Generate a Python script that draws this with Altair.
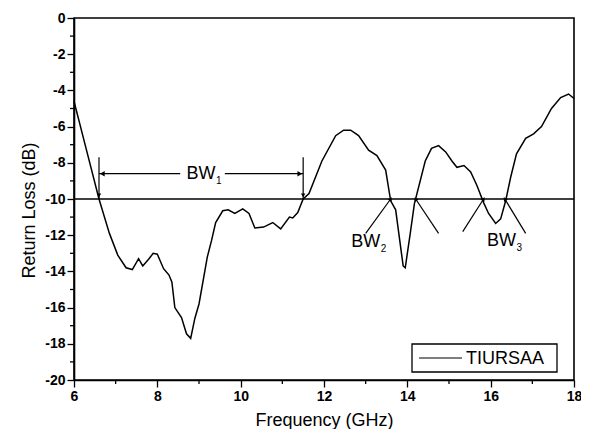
import altair as alt
import pandas as pd

# ---- data ----
freq = [6.0, 6.3, 6.6, 6.85, 7.05, 7.25, 7.4, 7.55, 7.65, 7.8, 7.9, 8.0, 8.15, 8.28,
        8.35, 8.42, 8.58, 8.7, 8.8, 8.9, 9.0, 9.2, 9.3, 9.4, 9.57, 9.7, 9.86, 10.05,
        10.2, 10.34, 10.55, 10.77, 10.96, 11.17, 11.25, 11.37, 11.5, 11.64, 11.95,
        12.28, 12.47, 12.64, 12.83, 13.07, 13.27, 13.48, 13.6, 13.72, 13.9, 13.95,
        14.07, 14.17, 14.43, 14.58, 14.75, 14.92, 15.07, 15.19, 15.36, 15.52, 15.67,
        15.83, 15.95, 16.12, 16.24, 16.36, 16.48, 16.62, 16.84, 17.03, 17.22, 17.46,
        17.68, 17.87, 18.0]
rl = [-4.6, -7.3, -10.0, -11.9, -13.1, -13.8, -13.9, -13.3, -13.7, -13.3, -13.0, -13.05,
      -13.85, -14.2, -14.6, -16.0, -16.55, -17.45, -17.7, -16.6, -15.8, -13.2, -12.3,
      -11.3, -10.65, -10.6, -10.8, -10.55, -10.8, -11.6, -11.55, -11.3, -11.65, -11.0,
      -11.05, -10.75, -10.0, -9.7, -7.9, -6.5, -6.2, -6.2, -6.5, -7.3, -7.6, -8.4,
      -10.1, -10.6, -13.7, -13.8, -11.9, -10.25, -7.9, -7.2, -7.05, -7.4, -7.9, -8.25,
      -8.15, -8.5, -9.25, -10.2, -10.8, -11.35, -11.1, -10.1, -8.8, -7.5, -6.65, -6.4,
      -6.0, -5.0, -4.4, -4.2, -4.45]
series_name = "TIURSAA"
threshold = -10
x_ticks = [6, 8, 10, 12, 14, 16, 18]
x_minor = [7, 9, 11, 13, 15, 17]
y_ticks = [-20, -18, -16, -14, -12, -10, -8, -6, -4, -2, 0]
y_minor = [-19, -17, -15, -13, -11, -9, -7, -5, -3, -1]

# BW1 markers
bw1_edges = [6.6, 11.5]
bw1_top = -7.7
bw1_arrow_y = -8.6
bw1_left_seg = [6.6, 8.55]
bw1_right_seg = [9.62, 11.5]
# diagonal pointers (x_start, y_start, x_end at -10 line)
diag_x1 = [13.0, 14.75, 15.33, 16.84]
diag_y1 = [-11.9, -11.9, -11.8, -11.9]
diag_x2 = [13.6, 14.2, 15.83, 16.34]
diag_angle = [32, 323, 34, 325]
# labels
lab_x = [9.05, 13.0, 16.26]
lab_y = [-8.6, -12.4, -12.3]
lab_sub = ["1", "2", "3"]

W, H = 500, 362
X = alt.Scale(domain=[6, 18], nice=False, zero=False)
Y = alt.Scale(domain=[-20, 0], nice=False, zero=False)
FONT = "Liberation Sans"
AX = alt.Axis(values=x_ticks, labelExpr="datum.value + ''")
AY = alt.Axis(values=y_ticks, labelExpr="datum.value + ''", titleY=H / 2 + 11,
              labelOverlap=False)
XT = "Frequency (GHz)"
YT = "Return Loss (dB)"


def xq(f):
    return alt.X(f, scale=X, axis=AX, title=XT)


def yq(f):
    return alt.Y(f, scale=Y, axis=AY, title=YT)


curve = pd.DataFrame({"f": freq, "rl": rl})
line = alt.Chart(curve).mark_line(color="black", strokeWidth=1.5).encode(
    x=xq("f:Q"), y=yq("rl:Q"))

hline = alt.Chart(pd.DataFrame({"a": [6], "b": [18], "y": [threshold]})).mark_rule(
    color="black", strokeWidth=1.3).encode(x=xq("a:Q"), x2="b:Q", y=yq("y:Q"))

minor_y = alt.Chart(pd.DataFrame({"v": y_minor})).mark_rule(
    color="black", strokeWidth=1.3).encode(
    y=yq("v:Q"), x=alt.value(0), x2=alt.value(-4))
minor_x = alt.Chart(pd.DataFrame({"v": x_minor})).mark_rule(
    color="black", strokeWidth=1.3).encode(
    x=xq("v:Q"), y=alt.value(H), y2=alt.value(H + 4))

vlines = alt.Chart(pd.DataFrame({"x": bw1_edges, "y1": [bw1_top] * 2,
                                 "y2": [threshold] * 2})).mark_rule(
    color="black", strokeWidth=1.2).encode(x=xq("x:Q"), y=yq("y1:Q"), y2="y2:Q")

hsegs = alt.Chart(pd.DataFrame({"a": [bw1_left_seg[0], bw1_right_seg[0]],
                                "b": [bw1_left_seg[1], bw1_right_seg[1]],
                                "y": [bw1_arrow_y] * 2})).mark_rule(
    color="black", strokeWidth=1.2).encode(x=xq("a:Q"), x2="b:Q", y=yq("y:Q"))

heads_h = alt.Chart(pd.DataFrame({"x": [bw1_edges[0] + 0.08, bw1_edges[1] - 0.08],
                                  "y": [bw1_arrow_y] * 2,
                                  "s": ["triangle-left", "triangle-right"]})).mark_point(
    filled=True, color="black", size=30, opacity=1).encode(
    x=xq("x:Q"), y=yq("y:Q"), shape=alt.Shape("s:N", scale=None))

heads_v = alt.Chart(pd.DataFrame({"x": bw1_edges, "y": [threshold + 0.2] * 2})).mark_point(
    filled=True, color="black", size=20, opacity=1, shape="triangle-down").encode(
    x=xq("x:Q"), y=yq("y:Q"))

diag_df = pd.DataFrame({"x1": diag_x1, "y1": diag_y1, "x2": diag_x2,
                        "y2": [threshold] * 4, "ang": diag_angle})
diags = alt.Chart(diag_df).mark_rule(color="black", strokeWidth=1.2).encode(
    x=xq("x1:Q"), y=yq("y1:Q"), x2="x2:Q", y2="y2:Q")
diag_heads = alt.Chart(diag_df).mark_point(
    filled=True, color="black", size=22, opacity=1, shape="triangle-up").encode(
    x=xq("x2:Q"), y=yq("y2:Q"), angle=alt.Angle("ang:Q", scale=None))

lab_df = pd.DataFrame({"x": lab_x, "y": lab_y, "sub": lab_sub})
labels = alt.Chart(lab_df).mark_text(
    text="BW", font=FONT, fontSize=18, color="black", align="center",
    baseline="middle").encode(x=xq("x:Q"), y=yq("y:Q"))
subs = alt.Chart(lab_df).mark_text(
    font=FONT, fontSize=10, color="black", align="left", baseline="middle",
    dx=15, dy=7).encode(x=xq("x:Q"), y=yq("y:Q"), text="sub:N")

# legend box
leg_box = alt.Chart(pd.DataFrame({"n": [series_name]})).mark_rect(
    fill="white", stroke="black", strokeWidth=1.3).encode(
    x=alt.value(338), x2=alt.value(483), y=alt.value(326), y2=alt.value(354))
leg_line = alt.Chart(pd.DataFrame({"n": [series_name]})).mark_rule(
    color="black", strokeWidth=1.2).encode(
    x=alt.value(345), x2=alt.value(388), y=alt.value(340))
leg_text = alt.Chart(pd.DataFrame({"n": [series_name]})).mark_text(
    font=FONT, fontSize=18, color="black", align="left", baseline="middle").encode(
    x=alt.value(392), y=alt.value(341), text="n:N")

chart = alt.layer(
    hline, line, minor_y, minor_x, vlines, hsegs, heads_h, heads_v, diags,
    diag_heads, labels, subs, leg_box, leg_line, leg_text
).properties(
    width=W, height=H, autosize="none",
    padding={"left": 66, "top": 10, "right": 7, "bottom": 49},
    background="white",
).configure_view(
    stroke="black", strokeWidth=1.6
).configure_axis(
    grid=False, domainColor="black", domainWidth=1.6, tickColor="black",
    tickWidth=1.3, tickSize=7, labelFont=FONT, labelFontSize=14,
    labelFontWeight="bold", labelColor="black", titleFont=FONT,
    titleFontSize=18, titleFontWeight="normal", titleColor="black",
    labelPadding=2,
).configure_axisX(titlePadding=8, labelFlush=False
).configure_axisY(titlePadding=6)

chart.save("out.html", embed_options={"renderer": "svg", "actions": False})
